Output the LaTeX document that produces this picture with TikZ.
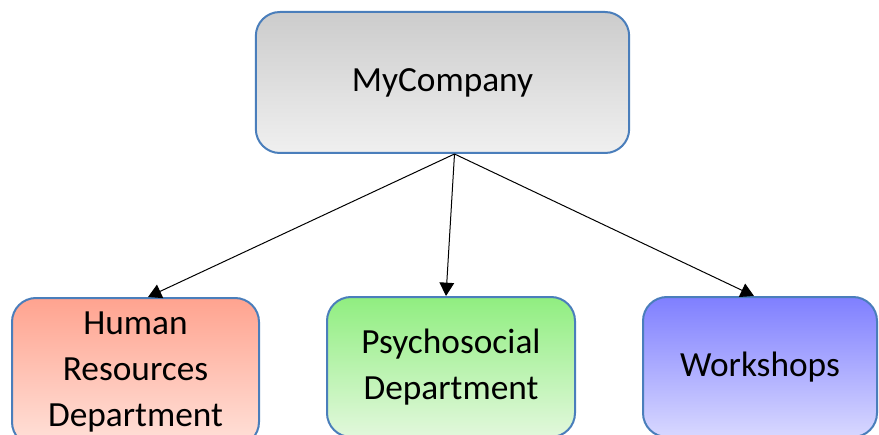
\documentclass[tikz,border=0pt]{standalone}
\usepackage{fontspec}
\setmainfont{Carlito}
\usetikzlibrary{arrows.meta}
\definecolor{edgeblue}{HTML}{4A7EBB}

\tikzset{
  unit/.style={draw=edgeblue, line width=1.5pt, rounded corners=18pt,
    align=center, font=\fontsize{26.5}{34.5}\selectfont},
  link/.style={-{Triangle[length=10pt,width=11pt]}, line width=0.75pt}
}

\begin{document}
\begin{tikzpicture}[x=0.75pt, y=-0.75pt]

   \useasboundingbox (0,0) rectangle (879,435);
   \clip (0,0) rectangle (879,435);

   \node[unit, top color=black!20, bottom color=black!6,
         minimum width=280pt, minimum height=105.75pt] (company) at (442.5,82.5) {MyCompany};

   \node[unit, top color={rgb,255:red,255;green,163;blue,143}, bottom color={rgb,255:red,255;green,226;blue,218},
         minimum width=185.25pt, minimum height=111pt] (hr) at (135.5,372) {Human\\Resources\\Department};
   \node[unit, top color={rgb,255:red,144;green,238;blue,128}, bottom color={rgb,255:red,226;green,248;blue,220},
         minimum width=186pt, minimum height=105pt] (psy) at (451,367) {Psychosocial\\Department};
   \node[unit, top color={rgb,255:red,127;green,127;blue,255}, bottom color={rgb,255:red,216;green,216;blue,255},
         minimum width=175.5pt, minimum height=105pt] (work) at (760,367) {Workshops};

   \coordinate (root) at ([xshift=9pt]company.south);

   \draw[link] (root) -- ([xshift=9.4pt]hr.north);
   \draw[link] (root) -- ([xshift=-3.75pt]psy.north);
   \draw[link] (root) -- ([xshift=-4.5pt]work.north);

\end{tikzpicture}
\end{document}
